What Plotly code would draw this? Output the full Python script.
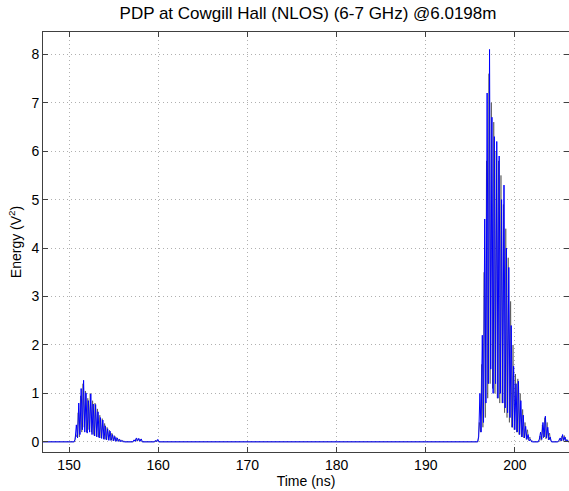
import numpy as np
import plotly.graph_objects as go

# ---- data ----
STEP = 0.135  # ns sample spacing

# segment start times (ns) for blue trace; black trace offset by half a step
seg_starts = [150.55, 157.15, 159.55, 195.80, 202.60, 204.80]

blue_segs = [
    [0, 0.05, 0.35, 0.08, 0.8, 0.15, 1.1, 0.25, 1.27, 0.2, 1.01, 0.18, 0.85, 0.2, 0.99, 0.15,
     0.78, 0.12, 0.77, 0.1, 0.62, 0.08, 0.5, 0.07, 0.45, 0.05, 0.33, 0.04, 0.27, 0.03, 0.22,
     0.03, 0.15, 0.02, 0.11, 0.01, 0.08, 0.01, 0.05, 0.0, 0.03, 0.0, 0.0],
    [0, 0.04, 0.01, 0.08, 0.02, 0.07, 0.01, 0.06, 0.0],
    [0, 0.03, 0.0, 0.05, 0.0],
    [0, 0.1, 1.0, 0.2, 2.2, 0.4, 4.6, 0.8, 7.2, 1.2, 8.1, 1.5, 6.7, 1.0, 6.3, 1.2, 6.2, 0.9,
     5.9, 1.0, 5.0, 0.8, 5.3, 0.7, 4.0, 0.6, 3.6, 0.5, 2.4, 0.3, 1.56, 0.25, 1.2, 0.2, 1.25,
     0.15, 0.85, 0.1, 0.55, 0.08, 0.32, 0.05, 0.15, 0.02, 0.05, 0.0, 0.0],
    [0, 0.05, 0.2, 0.05, 0.4, 0.1, 0.53, 0.08, 0.3, 0.04, 0.1, 0.0],
    [0, 0.03, 0.08, 0.02, 0.15, 0.03, 0.1, 0.01, 0.04, 0.0],
]

black_segs = [
    [0, 0.15, 0.1, 0.6, 0.1, 0.95, 0.2, 1.2, 0.3, 1.05, 0.2, 0.9, 0.25, 1.0, 0.2, 0.85, 0.15,
     0.8, 0.12, 0.68, 0.1, 0.55, 0.08, 0.48, 0.06, 0.38, 0.05, 0.3, 0.04, 0.24, 0.03, 0.18,
     0.02, 0.13, 0.02, 0.09, 0.01, 0.06, 0.01, 0.04, 0.0, 0.02, 0.0],
    [0, 0.03, 0.06, 0.01, 0.07, 0.02, 0.05, 0.0, 0.0],
    [0, 0.02, 0.04, 0.0, 0.0],
    [0, 0.4, 0.2, 1.6, 0.3, 3.5, 0.5, 5.8, 0.9, 7.6, 1.2, 7.0, 1.1, 6.6, 1.0, 6.0, 0.9, 5.8,
     0.8, 5.5, 0.8, 4.9, 0.6, 4.4, 0.5, 3.8, 0.4, 2.9, 0.3, 2.0, 0.25, 1.4, 0.2, 1.3, 0.15,
     1.0, 0.1, 0.67, 0.08, 0.4, 0.05, 0.25, 0.03, 0.1, 0.01, 0.02, 0.0],
    [0, 0.12, 0.03, 0.35, 0.08, 0.5, 0.06, 0.4, 0.04, 0.18, 0.02, 0.0],
    [0, 0.06, 0.01, 0.12, 0.02, 0.13, 0.01, 0.05, 0.0, 0.0],
]

t_start, t_end = 147.0, 206.2
x_ticks = [150, 160, 170, 180, 190, 200]
y_ticks = [0, 1, 2, 3, 4, 5, 6, 7, 8]


def build(segs, offset):
    xs, ys = [t_start], [0.0]
    for s0, vals in zip(seg_starts, segs):
        t = s0 + offset + STEP * np.arange(len(vals))
        xs.extend(t.tolist())
        ys.extend(vals)
    xs.append(t_end)
    ys.append(0.0)
    return xs, ys


bx, by = build(blue_segs, 0.0)
kx, ky = build(black_segs, STEP / 2)

fig = go.Figure()
fig.add_trace(go.Scatter(x=kx, y=ky, mode="lines",
                         line=dict(color="rgba(0,0,0,0.55)", width=0.8),
                         showlegend=False, hoverinfo="skip"))
fig.add_trace(go.Scatter(x=bx, y=by, mode="lines",
                         line=dict(color="#0000FF", width=1),
                         showlegend=False))

axis_common = dict(
    showline=True, linecolor="#404040", linewidth=1, mirror="ticks",
    ticks="inside", ticklen=5, tickcolor="#404040",
    showgrid=True, gridcolor="#b0b0b0", griddash="1px,3px", gridwidth=1,
    zeroline=False, tickfont=dict(size=14, color="black"),
)

fig.update_layout(
    width=569, height=491,
    margin=dict(l=43, r=0, t=32, b=39),
    paper_bgcolor="white", plot_bgcolor="white",
    font=dict(family="Arial, Liberation Sans, sans-serif", color="black"),
    title=dict(text="PDP at Cowgill Hall (NLOS) (6-7 GHz) @6.0198m",
               x=308 / 569, xref="container", xanchor="center",
               y=1 - 13 / 491, yref="container", yanchor="middle",
               font=dict(size=17, color="black")),
    xaxis=dict(range=[147.08, 206.06], tickvals=x_ticks,
               title=dict(text="Time (ns)", font=dict(size=14), standoff=3),
               **axis_common),
    yaxis=dict(range=[-0.21, 8.46], tickvals=y_ticks,
               title=dict(text="Energy (V<sup>2</sup>)", font=dict(size=14), standoff=6),
               **axis_common),
)

fig.write_html("out.html")
